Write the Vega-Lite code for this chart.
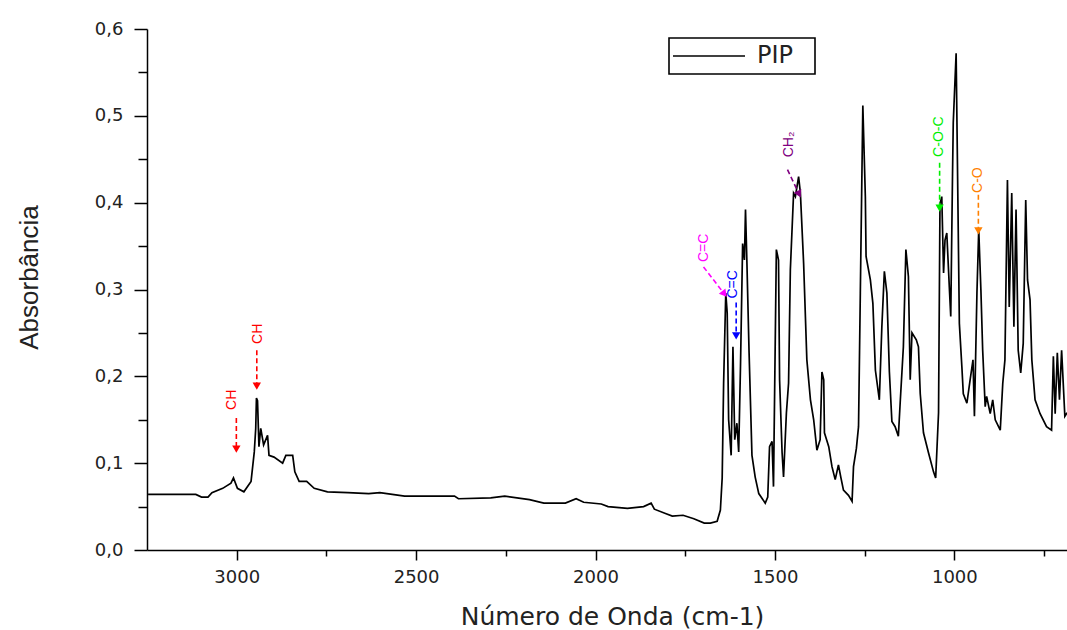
{
  "$schema": "https://vega.github.io/schema/vega-lite/v6.json",
  "width": 920,
  "height": 521,
  "autosize": {"type": "none"},
  "padding": {"left": 147, "top": 29, "right": 0, "bottom": 80},
  "background": "white",
  "config": {"view": {"stroke": null}, "font": "DejaVu Sans"},
  "datasets": {
    "spectrum": [
      {"wn":3247,"abs":0.064},{"wn":3114,"abs":0.064},{"wn":3098,"abs":0.061},{"wn":3080,"abs":0.061},{"wn":3069,"abs":0.066},{"wn":3039,"abs":0.071},{"wn":3016,"abs":0.077},{"wn":3009,"abs":0.083},{"wn":2998,"abs":0.071},{"wn":2980,"abs":0.067},{"wn":2960,"abs":0.079},{"wn":2951,"abs":0.113},{"wn":2947,"abs":0.14},{"wn":2945,"abs":0.175},{"wn":2942,"abs":0.172},{"wn":2938,"abs":0.119},{"wn":2933,"abs":0.140},{"wn":2925,"abs":0.121},{"wn":2914,"abs":0.132},{"wn":2910,"abs":0.109},{"wn":2896,"abs":0.107},{"wn":2872,"abs":0.100},{"wn":2863,"abs":0.109},{"wn":2844,"abs":0.109},{"wn":2838,"abs":0.090},{"wn":2826,"abs":0.079},{"wn":2805,"abs":0.079},{"wn":2784,"abs":0.071},{"wn":2747,"abs":0.067},{"wn":2690,"abs":0.066},{"wn":2632,"abs":0.065},{"wn":2601,"abs":0.066},{"wn":2532,"abs":0.062},{"wn":2393,"abs":0.062},{"wn":2382,"abs":0.059},{"wn":2292,"abs":0.060},{"wn":2253,"abs":0.062},{"wn":2184,"abs":0.058},{"wn":2144,"abs":0.054},{"wn":2084,"abs":0.054},{"wn":2054,"abs":0.059},{"wn":2033,"abs":0.055},{"wn":1984,"abs":0.053},{"wn":1965,"abs":0.050},{"wn":1911,"abs":0.048},{"wn":1866,"abs":0.050},{"wn":1845,"abs":0.054},{"wn":1836,"abs":0.047},{"wn":1805,"abs":0.042},{"wn":1786,"abs":0.039},{"wn":1756,"abs":0.040},{"wn":1726,"abs":0.036},{"wn":1697,"abs":0.031},{"wn":1680,"abs":0.031},{"wn":1661,"abs":0.033},{"wn":1652,"abs":0.046},{"wn":1647,"abs":0.083},{"wn":1643,"abs":0.192},{"wn":1637,"abs":0.296},{"wn":1633,"abs":0.273},{"wn":1629,"abs":0.150},{"wn":1622,"abs":0.109},{"wn":1617,"abs":0.234},{"wn":1612,"abs":0.127},{"wn":1606,"abs":0.146},{"wn":1601,"abs":0.113},{"wn":1596,"abs":0.211},{"wn":1590,"abs":0.353},{"wn":1585,"abs":0.334},{"wn":1582,"abs":0.392},{"wn":1578,"abs":0.330},{"wn":1572,"abs":0.227},{"wn":1564,"abs":0.109},{"wn":1555,"abs":0.084},{"wn":1545,"abs":0.065},{"wn":1527,"abs":0.054},{"wn":1520,"abs":0.061},{"wn":1515,"abs":0.119},{"wn":1508,"abs":0.125},{"wn":1504,"abs":0.073},{"wn":1496,"abs":0.346},{"wn":1490,"abs":0.334},{"wn":1487,"abs":0.196},{"wn":1480,"abs":0.112},{"wn":1476,"abs":0.084},{"wn":1468,"abs":0.158},{"wn":1462,"abs":0.192},{"wn":1457,"abs":0.323},{"wn":1448,"abs":0.411},{"wn":1443,"abs":0.407},{"wn":1434,"abs":0.430},{"wn":1429,"abs":0.411},{"wn":1420,"abs":0.330},{"wn":1411,"abs":0.219},{"wn":1401,"abs":0.173},{"wn":1392,"abs":0.150},{"wn":1383,"abs":0.115},{"wn":1374,"abs":0.127},{"wn":1369,"abs":0.205},{"wn":1364,"abs":0.196},{"wn":1362,"abs":0.135},{"wn":1350,"abs":0.119},{"wn":1341,"abs":0.096},{"wn":1332,"abs":0.081},{"wn":1323,"abs":0.098},{"wn":1316,"abs":0.083},{"wn":1309,"abs":0.069},{"wn":1295,"abs":0.063},{"wn":1285,"abs":0.056},{"wn":1281,"abs":0.096},{"wn":1273,"abs":0.117},{"wn":1267,"abs":0.142},{"wn":1262,"abs":0.296},{"wn":1255,"abs":0.512},{"wn":1248,"abs":0.407},{"wn":1246,"abs":0.338},{"wn":1234,"abs":0.311},{"wn":1227,"abs":0.284},{"wn":1220,"abs":0.207},{"wn":1209,"abs":0.173},{"wn":1202,"abs":0.257},{"wn":1195,"abs":0.321},{"wn":1188,"abs":0.296},{"wn":1181,"abs":0.205},{"wn":1174,"abs":0.148},{"wn":1165,"abs":0.142},{"wn":1156,"abs":0.131},{"wn":1151,"abs":0.169},{"wn":1142,"abs":0.234},{"wn":1135,"abs":0.346},{"wn":1128,"abs":0.315},{"wn":1123,"abs":0.196},{"wn":1118,"abs":0.250},{"wn":1106,"abs":0.242},{"wn":1100,"abs":0.234},{"wn":1095,"abs":0.180},{"wn":1086,"abs":0.135},{"wn":1072,"abs":0.112},{"wn":1058,"abs":0.090},{"wn":1052,"abs":0.083},{"wn":1044,"abs":0.158},{"wn":1040,"abs":0.399},{"wn":1035,"abs":0.407},{"wn":1030,"abs":0.319},{"wn":1026,"abs":0.357},{"wn":1021,"abs":0.365},{"wn":1014,"abs":0.303},{"wn":1010,"abs":0.269},{"wn":1005,"abs":0.434},{"wn":1003,"abs":0.492},{"wn":995,"abs":0.572},{"wn":991,"abs":0.434},{"wn":986,"abs":0.261},{"wn":979,"abs":0.211},{"wn":975,"abs":0.180},{"wn":965,"abs":0.169},{"wn":956,"abs":0.196},{"wn":948,"abs":0.219},{"wn":944,"abs":0.154},{"wn":937,"abs":0.296},{"wn":932,"abs":0.369},{"wn":926,"abs":0.300},{"wn":921,"abs":0.230},{"wn":914,"abs":0.165},{"wn":910,"abs":0.177},{"wn":900,"abs":0.157},{"wn":893,"abs":0.173},{"wn":886,"abs":0.150},{"wn":872,"abs":0.138},{"wn":865,"abs":0.192},{"wn":859,"abs":0.219},{"wn":852,"abs":0.426},{"wn":847,"abs":0.280},{"wn":840,"abs":0.411},{"wn":834,"abs":0.257},{"wn":828,"abs":0.392},{"wn":822,"abs":0.230},{"wn":815,"abs":0.204},{"wn":808,"abs":0.238},{"wn":801,"abs":0.403},{"wn":796,"abs":0.311},{"wn":789,"abs":0.288},{"wn":784,"abs":0.219},{"wn":775,"abs":0.173},{"wn":761,"abs":0.157},{"wn":743,"abs":0.142},{"wn":729,"abs":0.138},{"wn":724,"abs":0.223},{"wn":719,"abs":0.157},{"wn":713,"abs":0.227},{"wn":707,"abs":0.173},{"wn":701,"abs":0.230},{"wn":692,"abs":0.154},{"wn":686,"abs":0.158}
    ],
    "labels": [
      {"g":"ch","t":"CH","wn":3013,"abs":0.173},
      {"g":"ch","t":"CH","wn":2942,"abs":0.249},
      {"g":"cc1","t":"C=C","wn":1698,"abs":0.348},
      {"g":"cc2","t":"C=C","wn":1617,"abs":0.306},
      {"g":"ch2","t":"CH₂","wn":1460,"abs":0.467},
      {"g":"coc","t":"C-O-C","wn":1042,"abs":0.476},
      {"g":"co","t":"C-O","wn":935,"abs":0.426}
    ],
    "arrows": [
      {"g":"ch","wn":3001,"abs":0.152,"wn2":3001,"abs2":0.1175,"dir":"down"},
      {"g":"ch","wn":2944,"abs":0.230,"wn2":2944,"abs2":0.190,"dir":"down"},
      {"g":"cc1","wn":1699,"abs":0.326,"wn2":1643,"abs2":0.296,"dir":"a"},
      {"g":"cc2","wn":1608,"abs":0.285,"wn2":1608,"abs2":0.248,"dir":"down"},
      {"g":"ch2","wn":1465,"abs":0.438,"wn2":1434,"abs2":0.411,"dir":"b"},
      {"g":"coc","wn":1041,"abs":0.446,"wn2":1041,"abs2":0.395,"dir":"down"},
      {"g":"co","wn":933,"abs":0.409,"wn2":933,"abs2":0.369,"dir":"down"}
    ]
  },
  "layer": [
    {
      "data": {"name": "spectrum"},
      "mark": {"type": "line", "strokeWidth": 1.7, "clip": true},
      "encoding": {
        "x": {
          "field": "wn", "type": "quantitative",
          "scale": {"domain": [686, 3250], "reverse": true, "nice": false, "zero": false},
          "axis": {
            "title": "Número de Onda (cm-1)",
            "values": [3000, 2750, 2500, 2250, 2000, 1750, 1500, 1250, 1000, 750],
            "format": "d",
            "labelExpr": "datum.value % 500 === 0 ? datum.label : ''",
            "tickSize": {"condition": {"test": "datum.value % 500 === 0", "value": 10}, "value": 6},
            "grid": false,
            "domainColor": "#000", "domainWidth": 1.5,
            "tickColor": "#000", "tickWidth": 1.5,
            "labelFont": "DejaVu Sans", "labelFontSize": 18, "labelColor": "#222",
            "labelPadding": 8, "labelFlush": false, "labelOverlap": false,
            "titleFont": "DejaVu Sans", "titleFontSize": 25, "titleFontWeight": "normal", "titleColor": "#222",
            "titleX": 465, "titleY": 66, "titleBaseline": "middle", "titleAlign": "center"
          }
        },
        "y": {
          "field": "abs", "type": "quantitative",
          "scale": {"domain": [0, 0.6], "nice": false, "zero": false},
          "axis": {
            "title": "Absorbância",
            "values": [0, 0.05, 0.1, 0.15, 0.2, 0.25, 0.3, 0.35, 0.4, 0.45, 0.5, 0.55, 0.6],
            "labelExpr": "round(datum.value * 100) % 10 === 0 ? replace(format(datum.value, '.1f'), '.', ',') : ''",
            "tickSize": {"condition": {"test": "round(datum.value * 100) % 10 === 0", "value": 13}, "value": 9},
            "grid": false,
            "domainColor": "#000", "domainWidth": 1.5,
            "tickColor": "#000", "tickWidth": 1.5,
            "labelFont": "DejaVu Sans", "labelFontSize": 18, "labelColor": "#222",
            "labelPadding": 11, "labelFlush": false, "labelOverlap": false,
            "titleFont": "Liberation Sans", "titleFontSize": 26, "titleFontWeight": "normal", "titleColor": "#222",
            "titleX": -118, "titleY": 248, "titleBaseline": "middle", "titleAlign": "center", "titleAngle": 270
          }
        },
        "color": {
          "datum": "PIP",
          "scale": {"domain": ["PIP"], "range": ["#000000"]},
          "legend": {
            "title": "\u00a0", "titleOrient": "right", "titlePadding": 16, "titleFontSize": 8,
            "orient": "none", "legendX": 522, "legendY": 9,
            "symbolType": "M-4,0H4", "symbolSize": 324, "symbolStrokeWidth": 1.6, "symbolOffset": 22,
            "labelFont": "DejaVu Sans", "labelFontSize": 24, "labelColor": "#222",
            "labelOffset": 36,
            "strokeColor": "#000", "padding": 6, "cornerRadius": 0,
            "encode": {"legend": {"update": {"strokeWidth": {"value": 1.6}}}}
          }
        }
      }
    },
    {
      "data": {"name": "arrows"},
      "mark": {"type": "rule", "strokeWidth": 1.6, "strokeDash": [5, 3]},
      "encoding": {
        "x": {"field": "wn", "type": "quantitative"},
        "y": {"field": "abs", "type": "quantitative"},
        "x2": {"field": "wn2"},
        "y2": {"field": "abs2"},
        "color": {"field": "g", "type": "nominal", "scale": {"domain": ["ch","cc1","cc2","ch2","coc","co"], "range": ["#ff0000","#ff00ff","#0000ff","#800080","#00ee00","#ff8000"]}, "legend": null}
      }
    },
    {
      "data": {"name": "arrows"},
      "transform": [{"filter": "datum.dir === 'down'"}],
      "mark": {"type": "point", "shape": "triangle", "angle": 180, "filled": true, "size": 70, "opacity": 1},
      "encoding": {
        "x": {"field": "wn2", "type": "quantitative"},
        "y": {"field": "abs2", "type": "quantitative"},
        "color": {"field": "g", "type": "nominal", "scale": {"domain": ["ch","cc1","cc2","ch2","coc","co"], "range": ["#ff0000","#ff00ff","#0000ff","#800080","#00ee00","#ff8000"]}, "legend": null}
      }
    },
    {
      "data": {"name": "arrows"},
      "transform": [{"filter": "datum.dir === 'a'"}],
      "mark": {"type": "point", "shape": "triangle", "angle": 142, "filled": true, "size": 70, "opacity": 1},
      "encoding": {
        "x": {"field": "wn2", "type": "quantitative"},
        "y": {"field": "abs2", "type": "quantitative"},
        "color": {"field": "g", "type": "nominal", "scale": {"domain": ["ch","cc1","cc2","ch2","coc","co"], "range": ["#ff0000","#ff00ff","#0000ff","#800080","#00ee00","#ff8000"]}, "legend": null}
      }
    },
    {
      "data": {"name": "arrows"},
      "transform": [{"filter": "datum.dir === 'b'"}],
      "mark": {"type": "point", "shape": "triangle", "angle": 154, "filled": true, "size": 70, "opacity": 1},
      "encoding": {
        "x": {"field": "wn2", "type": "quantitative"},
        "y": {"field": "abs2", "type": "quantitative"},
        "color": {"field": "g", "type": "nominal", "scale": {"domain": ["ch","cc1","cc2","ch2","coc","co"], "range": ["#ff0000","#ff00ff","#0000ff","#800080","#00ee00","#ff8000"]}, "legend": null}
      }
    },
    {
      "data": {"name": "labels"},
      "mark": {"type": "text", "angle": 270, "align": "center", "baseline": "middle", "font": "Liberation Sans", "fontSize": 14},
      "encoding": {
        "x": {"field": "wn", "type": "quantitative"},
        "y": {"field": "abs", "type": "quantitative"},
        "text": {"field": "t"},
        "color": {"field": "g", "type": "nominal", "scale": {"domain": ["ch","cc1","cc2","ch2","coc","co"], "range": ["#ff0000","#ff00ff","#0000ff","#800080","#00ee00","#ff8000"]}, "legend": null}
      }
    }
  ],
  "resolve": {"scale": {"color": "independent"}}
}
